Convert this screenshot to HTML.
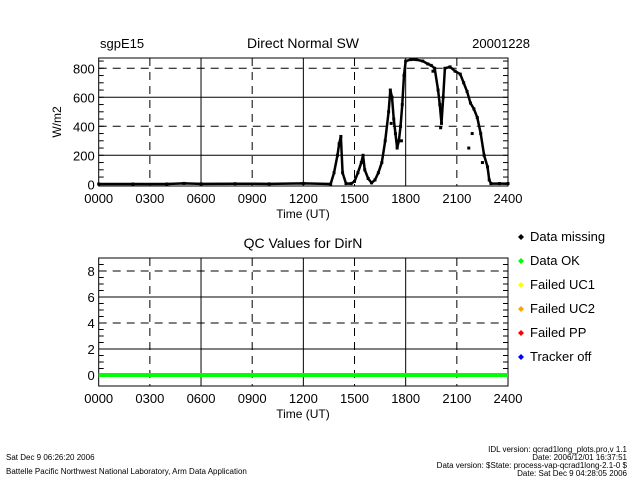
<!DOCTYPE html>
<html><head><meta charset="utf-8"><style>
body{margin:0;background:#fff;width:640px;height:480px;overflow:hidden}
svg{font-family:"Liberation Sans",sans-serif}
</style></head><body>
<svg id="c" width="640" height="480">
<g id="top"></g>
<g id="bot"></g>
<g id="leg"></g>
<text x="6" y="460" font-size="8">Sat Dec  9 06:26:20 2006</text>
<text x="6" y="474" font-size="8">Battelle Pacific Northwest National Laboratory, Arm Data Application</text>
<text x="627" y="452" font-size="8" text-anchor="end">IDL version: qcrad1long_plots.pro,v 1.1</text>
<text x="627" y="460" font-size="8" text-anchor="end">Date: 2006/12/01 16:37:51</text>
<text x="627" y="468" font-size="8" text-anchor="end">Data version: $State: process-vap-qcrad1long-2.1-0 $</text>
<text x="627" y="476" font-size="8" text-anchor="end">Date: Sat Dec  9 04:28:05 2006</text>
</svg>
<script>
const hours=[0,2,4,5,6,8,10,12,13.6,13.8,14.0,14.1,14.2,14.3,14.5,14.8,15.0,15.2,15.4,15.5,15.6,15.8,16.0,16.2,16.4,16.6,16.8,17.0,17.1,17.2,17.3,17.4,17.5,17.6,17.7,17.8,17.9,18.0,18.3,18.6,19.0,19.3,19.5,19.7,19.9,20.0,20.1,20.2,20.3,20.6,20.9,21.2,21.4,21.6,21.8,22.0,22.2,22.4,22.6,22.8,22.9,23.0,23.5,24];
const dirN=[2,2,2,6,3,4,3,6,2,80,200,280,330,80,5,5,20,80,150,200,100,40,10,30,80,150,300,500,650,600,450,350,250,300,400,550,750,850,860,860,850,830,820,800,650,550,420,600,800,810,780,760,700,640,560,520,460,350,200,120,30,5,5,5];
const outH=[17.15,17.75,19.6,20.05,21.7,21.9,22.5];
const outV=[420,300,780,390,250,350,150];
const qcHours=[0,24];
const qcVals=[0,0];
const xTicks=["0000","0300","0600","0900","1200","1500","1800","2100","2400"];
const yTicksTop=[0,200,400,600,800];
const yTicksBot=[0,2,4,6,8];
const legendLabels=["Data missing","Data OK","Failed UC1","Failed UC2","Failed PP","Tracker off"];
const legendColors=["#000","#00ff00","#ffff00","#ffa500","#ff0000","#0000ff"];
const NS="http://www.w3.org/2000/svg";
function mk(p,t,a,txt){const e=document.createElementNS(NS,t);for(const k in a)e.setAttribute(k,a[k]);if(txt!==undefined)e.textContent=txt;p.appendChild(e);return e;}
const L=98.7,R=508;
const xs=h=>L+h*(R-L)/24;
function panel(g,top,bot,y,yt,ymax,title,nameP){
  mk(g,'rect',{x:L,y:top,width:R-L,height:bot-top,fill:'none',stroke:'#000','stroke-width':1});
  for(let i=1;i<8;i++){const x=xs(i*3);const gl=mk(g,'line',{x1:x,x2:x,y1:top,y2:bot,stroke:'#000','stroke-dasharray':i%2?'8,6':'none'});
    }
  yt.forEach((v,i)=>{const yy=y(v);if(i>0){const gl=mk(g,'line',{x1:L,x2:R,y1:yy,y2:yy,stroke:'#000','stroke-dasharray':i%2?'none':'8,6'});
    }
    const t=mk(g,'text',{x:L-4,y:yy+5,'font-size':13,'text-anchor':'end'},String(v));
    });
  // minor ticks
  for(let v=0;v<=ymax;v+=yt[1]/4){const yy=y(v);mk(g,'line',{x1:L,x2:L+5,y1:yy,y2:yy,stroke:'#000'});mk(g,'line',{x1:R-5,x2:R,y1:yy,y2:yy,stroke:'#000'});}
  xTicks.forEach((s,i)=>{const t=mk(g,'text',{x:xs(i*3),y:bot+17,'font-size':13,'text-anchor':'middle'},s);
    });
  const xt=mk(g,'text',{x:303,y:bot+32,'font-size':12,'text-anchor':'middle'},'Time (UT)');
  
  const tt=mk(g,'text',{x:303,y:top-10,'font-size':14,'text-anchor':'middle'},title);
  
}
// top
const g1=document.getElementById('top');
const yT=v=>184.3-v*0.145;
panel(g1,58,186,yT,yTicksTop,880,'Direct Normal SW','top');
const s1=mk(g1,'text',{x:100,y:48,'font-size':13},'sgpE15');
const s2=mk(g1,'text',{x:530,y:48,'font-size':13,'text-anchor':'end'},'20001228');
const yl=mk(g1,'text',{x:0,y:0,'font-size':12,'text-anchor':'middle',transform:'translate(61,122) rotate(-90)'},'W/m2');

const pl=mk(g1,'polyline',{points:hours.map((h,i)=>xs(h)+','+yT(dirN[i])).join(' '),fill:'none',stroke:'#000','stroke-width':2.5});

hours.forEach((h,i)=>{const r=mk(g1,'rect',{x:xs(h)-1.5,y:yT(dirN[i])-1.5,width:3,height:3,fill:'#000'});
  });
outH.forEach((h,i)=>{const r=mk(g1,'rect',{x:xs(h)-1.5,y:yT(outV[i])-1.5,width:3,height:3,fill:'#000'});
  });
// bottom
const g2=document.getElementById('bot');
const yB=v=>375-v*13;
panel(g2,258,386,yB,yTicksBot,9,'QC Values for DirN','qc');
const ql=mk(g2,'polyline',{points:qcHours.map((h,i)=>xs(h)+','+yB(qcVals[i])).join(' '),fill:'none',stroke:'#00ff00','stroke-width':4});

// legend
const g3=document.getElementById('leg');
legendLabels.forEach((s,i)=>{const y=237+i*24;
  const it=mk(g3,'g',{});
  mk(it,'path',{d:`M${521},${y-3} l3,3 l-3,3 l-3,-3z`,fill:legendColors[i]});
  mk(it,'text',{x:530,y:y+4,'font-size':13},s);});
</script>
</body></html>
